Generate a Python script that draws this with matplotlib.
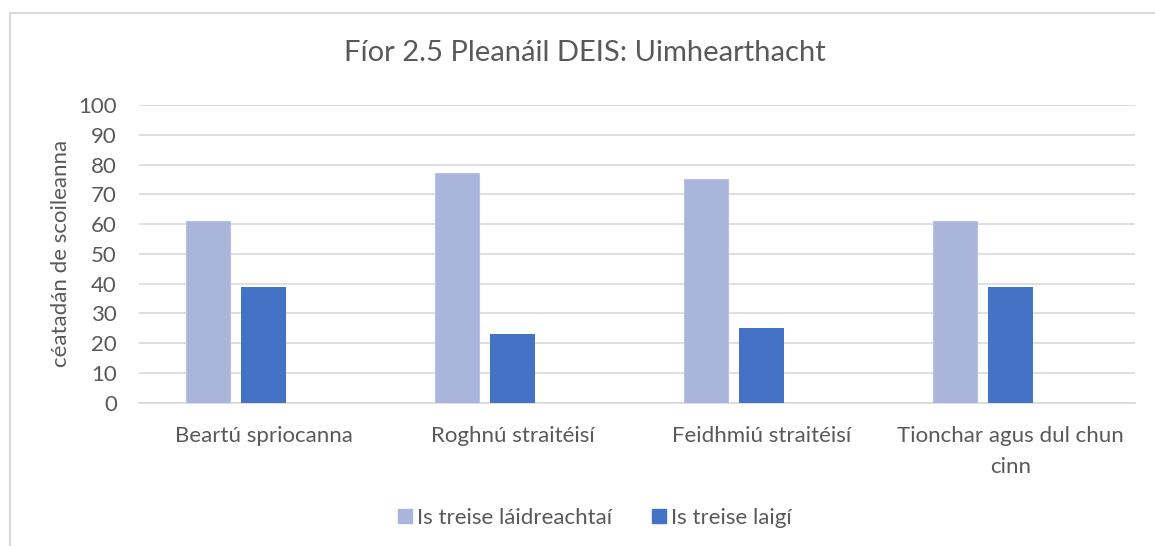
import numpy as np
import matplotlib.pyplot as plt
from matplotlib.lines import Line2D

plt.rcParams['font.family'] = ['Lato', 'DejaVu Sans']

categories = ['Beartú spriocanna', 'Roghnú straitéisí', 'Feidhmiú straitéisí',
              'Tionchar agus dul chun\ncinn']
series_names = ['Is treise láidreachtaí', 'Is treise laigí']
laidreachtai = [61, 77, 75, 61]
laigi = [39, 23, 25, 39]

text_col = '#595959'
grid_col = '#D9D9D9'
light_col = '#A9B5DA'
dark_col = '#4472C4'
fs = 16

fig = plt.figure(figsize=(11.55, 5.46), dpi=100)
ax = fig.add_axes([139 / 1155, 1 - 402.7 / 546, (1135 - 139) / 1155, (402.7 - 105) / 546])

x = np.arange(len(categories))
w = 0.177
ax.bar(x - 0.223, laidreachtai, w, color=light_col, edgecolor='#B8C3E2', linewidth=0.8,
       label=series_names[0], zorder=3)
ax.bar(x, laigi, w, color=dark_col, label=series_names[1], zorder=3)

ax.set_xlim(-0.5, len(categories) - 0.5)
ax.set_ylim(0, 100)
ax.set_yticks(range(0, 101, 10))
ax.yaxis.grid(True, color=grid_col, linewidth=1.2, zorder=0)
ax.set_axisbelow(True)
for s in ['top', 'right', 'left']:
    ax.spines[s].set_visible(False)
ax.spines['bottom'].set_color(grid_col)
ax.spines['bottom'].set_linewidth(1.2)
ax.tick_params(axis='both', length=0, labelsize=fs, colors=text_col)
ax.tick_params(axis='y', pad=16)
ax.tick_params(axis='x', pad=17)
ax.set_xticks(x)
ax.set_xticklabels(categories, linespacing=1.65)
ax.set_ylabel('céatadán de scoileanna', fontsize=fs, color=text_col, labelpad=5)

fig.text(585 / 1155, 1 - 53 / 546, 'Fíor 2.5 Pleanáil DEIS: Uimhearthacht',
         ha='center', va='center', fontsize=21, color=text_col)

handles = [plt.Rectangle((0, 0), 1, 1, color=light_col),
           plt.Rectangle((0, 0), 1, 1, color=dark_col)]
fig.legend(handles, series_names, loc='center', bbox_to_anchor=(595 / 1155, 1 - 518 / 546),
           ncol=2, frameon=False, fontsize=fs, labelcolor=text_col,
           handlelength=0.6, handleheight=0.6, handletextpad=0.25, columnspacing=1.8)

# chart border (cut off at right and bottom)
fig.add_artist(Line2D([10 / 1155, 1], [1 - 13 / 546, 1 - 13 / 546], color=grid_col, linewidth=1.5,
                      transform=fig.transFigure))
fig.add_artist(Line2D([10 / 1155, 10 / 1155], [0, 1 - 13 / 546], color=grid_col, linewidth=1.5,
                      transform=fig.transFigure))

fig.savefig('out.png', dpi=100)
